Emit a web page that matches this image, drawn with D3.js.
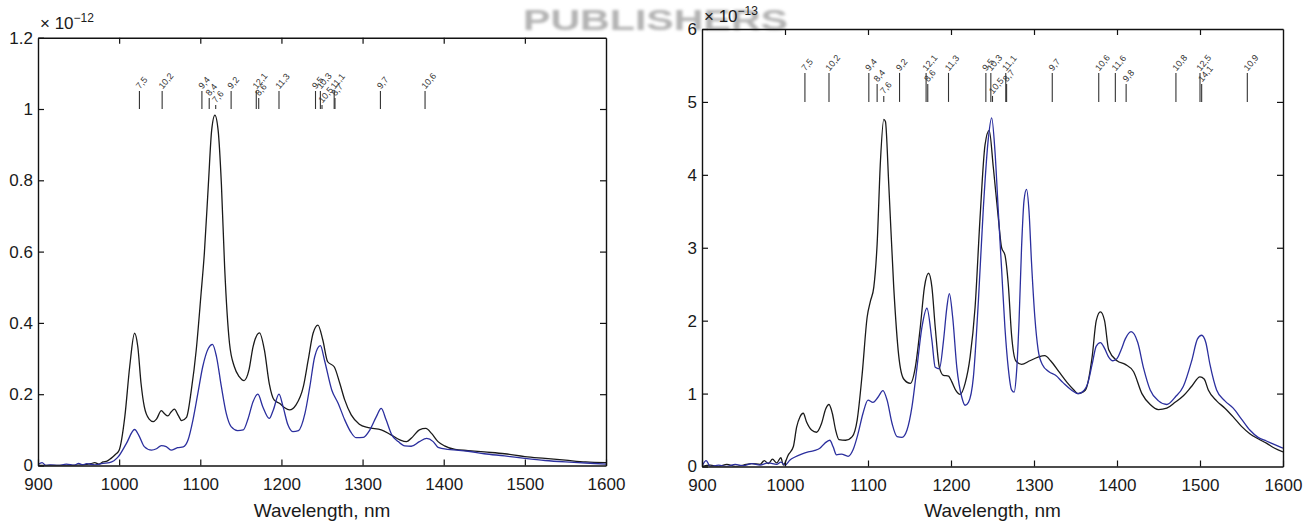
<!DOCTYPE html>
<html><head><meta charset="utf-8">
<script src="https://cdn.jsdelivr.net/npm/d3@7"></script>
<style>
body{margin:0;background:#fff;}
svg{display:block;font-family:"Liberation Sans",Arial,Helvetica,sans-serif;}
</style></head>
<body><svg id="chart" width="1304" height="523"></svg>
<script>
// ---------- DATA ----------
const xTicks = [900,1000,1100,1200,1300,1400,1500,1600];
const leftYTicks = [0,0.2,0.4,0.6,0.8,1,1.2];
const rightYTicks = [0,1,2,3,4,5,6];
const leftExponent = "−12";
const rightExponent = "−13";
const xLabel = "Wavelength, nm";
const watermark = "PUBLISHERS";

// left panel, black (x1e-12)
const leftBlack = [[900,0],[930,0],[955,0.002],[965,0.005],[970,0.008],[975,0.004],[980,0.01],[985,0.012],[990,0.02],[995,0.03],[1000,0.043],[1007,0.137],[1013,0.277],[1019,0.371],[1023,0.333],[1027,0.23],[1031,0.165],[1037,0.13],[1042,0.123],[1046,0.13],[1052,0.154],[1056,0.145],[1060,0.139],[1064,0.15],[1068,0.158],[1073,0.14],[1077,0.126],[1083,0.135],[1089,0.212],[1095,0.324],[1101,0.483],[1105,0.595],[1110,0.79],[1114,0.94],[1118,0.983],[1122,0.94],[1126,0.79],[1130,0.557],[1136,0.343],[1142,0.277],[1148,0.249],[1154,0.238],[1160,0.268],[1165,0.333],[1173,0.372],[1179,0.324],[1185,0.23],[1191,0.184],[1198,0.174],[1204,0.162],[1210,0.156],[1218,0.17],[1227,0.221],[1233,0.296],[1239,0.371],[1245,0.394],[1251,0.352],[1257,0.291],[1265,0.277],[1272,0.23],[1278,0.184],[1286,0.142],[1296,0.116],[1307,0.106],[1323,0.1],[1335,0.086],[1346,0.072],[1354,0.067],[1362,0.081],[1370,0.1],[1378,0.104],[1385,0.09],[1393,0.067],[1401,0.055],[1414,0.045],[1430,0.042],[1450,0.038],[1475,0.033],[1500,0.025],[1525,0.02],[1550,0.015],[1575,0.01],[1600,0.008]];
// left panel, blue (x1e-12)
const leftBlue = [[900,0.003],[905,0.008],[910,0],[915,0.002],[925,0],[935,0.004],[945,0.001],[950,0.006],[955,0.002],[960,0.005],[970,0.002],[980,0.006],[988,0.008],[999,0.025],[1009,0.062],[1019,0.101],[1025,0.081],[1031,0.053],[1040,0.043],[1046,0.047],[1052,0.056],[1058,0.053],[1064,0.043],[1072,0.05],[1079,0.052],[1085,0.072],[1091,0.128],[1097,0.202],[1103,0.277],[1110,0.329],[1115,0.34],[1120,0.305],[1126,0.221],[1132,0.146],[1138,0.109],[1146,0.098],[1153,0.1],[1159,0.132],[1165,0.179],[1171,0.2],[1177,0.165],[1185,0.132],[1190,0.156],[1197,0.2],[1202,0.165],[1208,0.114],[1214,0.095],[1221,0.098],[1229,0.146],[1235,0.221],[1241,0.305],[1248,0.336],[1253,0.296],[1262,0.212],[1270,0.174],[1278,0.128],[1286,0.092],[1292,0.078],[1301,0.079],[1309,0.1],[1317,0.137],[1323,0.16],[1329,0.128],[1336,0.086],[1344,0.067],[1352,0.055],[1360,0.054],[1370,0.067],[1379,0.076],[1387,0.067],[1393,0.051],[1405,0.045],[1416,0.043],[1430,0.04],[1450,0.033],[1475,0.027],[1500,0.02],[1525,0.014],[1550,0.01],[1575,0.007],[1600,0.004]];
// right panel, black (x1e-13)
const rightBlack = [[900,0],[910,0.02],[920,0],[930,0.03],[940,0],[950,0.02],[960,0.04],[970,0.03],[975,0.08],[980,0.04],[985,0.1],[990,0.05],[995,0.12],[998,0.02],[1004,0.16],[1010,0.27],[1014,0.54],[1018,0.68],[1022,0.73],[1026,0.61],[1032,0.5],[1038,0.47],[1044,0.59],[1049,0.79],[1053,0.85],[1057,0.73],[1061,0.5],[1065,0.37],[1073,0.36],[1081,0.41],[1087,0.64],[1093,1.27],[1099,2.05],[1103,2.27],[1107,2.46],[1111,3.05],[1115,4.19],[1119,4.76],[1121,4.73],[1125,3.87],[1131,2.46],[1137,1.52],[1143,1.2],[1151,1.14],[1157,1.36],[1163,1.91],[1168,2.46],[1173,2.65],[1177,2.46],[1181,1.91],[1186,1.36],[1191,1.25],[1197,1.24],[1201,1.16],[1206,1.04],[1211,0.99],[1217,1.14],[1223,1.5],[1229,2.18],[1235,3.41],[1241,4.41],[1246,4.61],[1251,4.1],[1257,3.41],[1261,3.0],[1265,2.9],[1269,2.5],[1273,1.8],[1278,1.45],[1285,1.4],[1295,1.45],[1305,1.5],[1313,1.52],[1320,1.45],[1330,1.3],[1340,1.15],[1348,1.05],[1353,1.0],[1362,1.05],[1370,1.5],[1375,2.0],[1380,2.12],[1385,2.0],[1390,1.6],[1400,1.45],[1410,1.4],[1420,1.3],[1430,1.0],[1440,0.85],[1450,0.78],[1460,0.8],[1470,0.88],[1480,0.97],[1490,1.1],[1500,1.23],[1505,1.2],[1510,1.05],[1520,0.9],[1530,0.8],[1540,0.68],[1550,0.55],[1560,0.45],[1570,0.38],[1580,0.32],[1590,0.25],[1600,0.2]];
// right panel, blue (x1e-13)
const rightBlue = [[900,0],[905,0.08],[910,0],[920,0.02],[930,0],[940,0.03],[950,0.01],[960,0.04],[970,0.02],[980,0.05],[990,0.03],[995,0.06],[1000,0.02],[1006,0.09],[1012,0.13],[1020,0.17],[1028,0.2],[1036,0.22],[1042,0.25],[1048,0.32],[1054,0.36],[1058,0.27],[1062,0.16],[1068,0.17],[1076,0.14],[1082,0.23],[1088,0.45],[1094,0.73],[1100,0.91],[1106,0.88],[1112,0.95],[1118,1.04],[1123,0.91],[1129,0.59],[1135,0.41],[1141,0.4],[1147,0.5],[1153,0.82],[1159,1.36],[1165,1.91],[1171,2.17],[1177,1.73],[1181,1.36],[1186,1.34],[1191,1.73],[1195,2.18],[1198,2.37],[1202,2.05],[1207,1.36],[1213,0.95],[1217,0.84],[1221,0.88],[1227,1.23],[1233,2.27],[1239,3.55],[1245,4.5],[1249,4.78],[1253,4.32],[1257,3.5],[1261,2.7],[1265,1.9],[1269,1.35],[1273,1.05],[1276,1.02],[1279,1.3],[1282,2.0],[1285,3.0],[1288,3.65],[1291,3.8],[1294,3.5],[1297,2.8],[1301,2.05],[1305,1.6],[1310,1.4],[1318,1.3],[1326,1.25],[1335,1.15],[1345,1.05],[1353,1.0],[1358,1.02],[1365,1.15],[1370,1.4],[1375,1.65],[1380,1.7],[1385,1.62],[1390,1.5],[1395,1.45],[1400,1.48],[1405,1.6],[1410,1.75],[1417,1.85],[1425,1.7],[1432,1.35],[1440,1.05],[1450,0.9],[1460,0.85],[1470,0.95],[1480,1.1],[1490,1.45],[1497,1.75],[1502,1.8],[1507,1.7],[1512,1.4],[1520,1.05],[1530,0.9],[1540,0.8],[1550,0.65],[1560,0.5],[1570,0.4],[1580,0.35],[1590,0.3],[1600,0.25]];

// peak markers: [label, wavelength, tier]  (tier 0 = long, 1 = medium, 2 = short)
const leftMarkers = [["7,5",1025,0],["10,2",1053,0],["9,4",1102,0],["8,4",1111,1],["7,6",1119,2],["9,2",1138,0],["12,1",1169,0],["8,6",1172,1],["11,3",1197,0],["9,5",1242,0],["10,3",1248,0],["10,5",1250,2],["11,1",1265,0],["8,7",1266,1],["9,7",1322,0],["10,6",1377,0]];
const rightMarkers = [["7,5",1024,0],["10,2",1053,0],["9,4",1101,0],["8,4",1111,1],["7,6",1119,2],["9,2",1138,0],["12,1",1170,0],["8,6",1172,1],["11,3",1197,0],["9,5",1242,0],["10,3",1248,0],["10,5",1250,2],["11,1",1266,0],["8,7",1267,1],["9,7",1322,0],["10,6",1378,0],["11,6",1398,0],["9,8",1411,1],["10,8",1471,0],["12,5",1500,0],["14,1",1502,1],["10,9",1557,0]];
const leftMarkerBase = 1.0;
const rightMarkerBase = 5.0;

// ---------- DRAW ----------
const svg = d3.select("#chart");
const defs = svg.append("defs");
defs.append("filter").attr("id","blur").append("feGaussianBlur").attr("stdDeviation",1.8);

svg.append("text").attr("x",523).attr("y",30).attr("textLength",265).attr("lengthAdjust","spacingAndGlyphs")
  .attr("font-size",29).attr("font-weight","bold").attr("fill","#b3b3b3").attr("filter","url(#blur)")
  .text(watermark);

const panels = [
  {x0:38,x1:606,y0:465.5,y1:37.7,yMax:1.2,yTicks:leftYTicks,exp:leftExponent,expDy:8.5,
   series:[leftBlack,leftBlue],markers:leftMarkers,base:leftMarkerBase,tierPx:[18,11,4],id:"L"},
  {x0:702,x1:1283,y0:466.5,y1:29,yMax:6,yTicks:rightYTicks,exp:rightExponent,expDy:7,
   series:[rightBlack,rightBlue],markers:rightMarkers,base:rightMarkerBase,tierPx:[29,18,6],id:"R"}
];
const colors = ["#1a1a1a","#2b2f9e"];

panels.forEach(p=>{
  const x = d3.scaleLinear().domain([900,1600]).range([p.x0,p.x1]);
  const y = d3.scaleLinear().domain([0,p.yMax]).range([p.y0,p.y1]);
  const g = svg.append("g");

  defs.append("clipPath").attr("id","clip"+p.id).append("rect")
    .attr("x",p.x0).attr("y",p.y1).attr("width",p.x1-p.x0).attr("height",p.y0-p.y1);

  const line = d3.line().x(d=>x(d[0])).y(d=>y(d[1])).curve(d3.curveMonotoneX);
  const cg = g.append("g").attr("clip-path","url(#clip"+p.id+")");
  p.series.forEach((s,i)=>{
    cg.append("path").datum(s).attr("d",line).attr("fill","none")
      .attr("stroke",colors[i]).attr("stroke-width",1.3).attr("stroke-linejoin","round");
  });

  // markers
  const mg = g.append("g");
  p.markers.forEach(m=>{
    const mx = x(m[1]), yb = y(p.base), yt = yb - p.tierPx[m[2]];
    mg.append("line").attr("x1",mx).attr("x2",mx).attr("y1",yb).attr("y2",yt)
      .attr("stroke","#333").attr("stroke-width",1.1);
    mg.append("text").attr("transform",`translate(${mx+0.5},${yt-1.5}) rotate(-50)`)
      .attr("font-size",9).attr("fill","#333").text(m[0]);
  });

  // axes
  const fmt = d3.format("~g");
  const ax = g.append("g");
  ax.append("g").attr("transform",`translate(0,${p.y0})`)
    .call(d3.axisBottom(x).tickValues(xTicks).tickSizeInner(-6).tickSizeOuter(0).tickPadding(12.5).tickFormat(d3.format("d")));
  const top = ax.append("g").attr("transform",`translate(0,${p.y1})`)
    .call(d3.axisTop(x).tickValues(xTicks).tickSizeInner(-6).tickSizeOuter(0).tickFormat(""));
  ax.append("g").attr("transform",`translate(${p.x0},0)`)
    .call(d3.axisLeft(y).tickValues(p.yTicks).tickSizeInner(-6).tickSizeOuter(0).tickPadding(5).tickFormat(fmt));
  const right = ax.append("g").attr("transform",`translate(${p.x1},0)`)
    .call(d3.axisRight(y).tickValues(p.yTicks).tickSizeInner(-6).tickSizeOuter(0).tickFormat(""));
  ax.selectAll(".domain").attr("stroke","#111").attr("stroke-width",1.4);
  ax.selectAll(".tick line").attr("stroke","#111").attr("stroke-width",1.2);
  ax.selectAll("text").attr("fill","#1a1a1a").attr("font-family","'Liberation Sans',Arial,sans-serif").attr("font-size",17);
  [top,right].forEach(a=>a.selectAll(".tick").filter((d,i,n)=>i===0||i===n.length-1).select("line").remove());

  // exponent
  const et = g.append("text").attr("x",p.x0+2).attr("y",p.y1-p.expDy).attr("font-size",17).attr("fill","#1a1a1a");
  et.append("tspan").text("× 10");
  et.append("tspan").attr("dy",-7).attr("font-size",12).text(p.exp);

  // x label
  g.append("text").attr("x",(p.x0+p.x1)/2).attr("y",517).attr("text-anchor","middle")
    .attr("font-size",19).attr("fill","#1a1a1a").text(xLabel);
});
</script></body></html>
